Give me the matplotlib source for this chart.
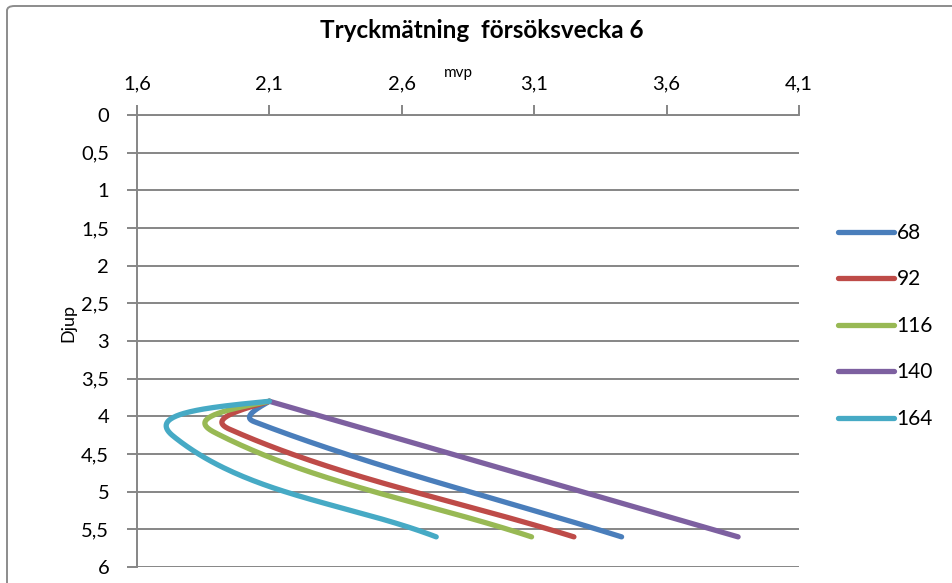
import numpy as np
import matplotlib
matplotlib.use("Agg")
import matplotlib.pyplot as plt
from matplotlib.patches import FancyBboxPatch
from matplotlib.ticker import FuncFormatter

plt.rcParams["font.family"] = ["Lato", "DejaVu Sans"]

# Tryck (mvp) och mätdjup (m) per serie
series_names = ["68", "92", "116", "140", "164"]
mvp_68 = [2.1, 2.042, 3.43]
mvp_92 = [2.1, 1.949, 3.25]
mvp_116 = [2.1, 1.891, 3.09]
mvp_140 = [2.1, 2.395, 3.87]
mvp_164 = [2.1, 1.736, 2.73]
djup_68 = [3.8, 4.07, 5.6]
djup_92 = [3.8, 4.17, 5.6]
djup_116 = [3.8, 4.21, 5.6]
djup_140 = [3.8, 4.1, 5.6]
djup_164 = [3.8, 4.26, 5.6]
series_values = [mvp_68, mvp_92, mvp_116, mvp_140, mvp_164]
series_depths = [djup_68, djup_92, djup_116, djup_140, djup_164]
colors = ["#4A7EBB", "#BE4B48", "#98B954", "#7D60A0", "#46AAC5"]

x_ticks = [1.6, 2.1, 2.6, 3.1, 3.6, 4.1]
y_ticks = np.arange(0, 6.01, 0.5)


def comma(v, _pos=None):
    s = f"{v:.1f}".rstrip("0").rstrip(".")
    return s.replace(".", ",")


def smooth_curve(ax, xs, ys, n=80):
    """Mjuk kurva genom punkterna, beräknad i skärmkoordinater."""
    pts = ax.transData.transform(np.column_stack([xs, ys]))
    m = len(pts)
    before = [None] * m
    after = [None] * m
    for i in range(1, m - 1):
        d = pts[i + 1] - pts[i - 1]
        span = np.hypot(*d)
        d = d / span
        l_prev = np.hypot(*(pts[i] - pts[i - 1]))
        l_next = np.hypot(*(pts[i + 1] - pts[i]))
        before[i] = pts[i] - d * min(span / 6, l_prev / 2)
        after[i] = pts[i] + d * l_next / 3
    after[0] = pts[0] + (before[1] - pts[0]) / 2
    before[-1] = pts[-1] - (pts[-1] - pts[-2]) / 3
    t = np.linspace(0, 1, n)[:, None]
    out = []
    for i in range(m - 1):
        b0, b1, b2, b3 = pts[i], after[i], before[i + 1], pts[i + 1]
        seg = ((1 - t) ** 3) * b0 + 3 * ((1 - t) ** 2) * t * b1 \
            + 3 * (1 - t) * t ** 2 * b2 + t ** 3 * b3
        out.append(seg)
    out = np.vstack(out)
    return ax.transData.inverted().transform(out)


fig = plt.figure(figsize=(9.52, 5.83), dpi=100)
ax = fig.add_axes([137 / 952, 1 - 567 / 583, 662 / 952, 452 / 583])

ax.set_xlim(1.6, 4.1)
ax.set_ylim(6, 0)
ax.set_xticks(x_ticks)
ax.set_yticks(y_ticks)
ax.xaxis.set_major_formatter(FuncFormatter(comma))
ax.yaxis.set_major_formatter(FuncFormatter(comma))
ax.xaxis.tick_top()

grid_color = "#868686"
ax.grid(axis="y", color=grid_color, linewidth=1.4)
ax.set_axisbelow(True)
for side in ["right", "bottom"]:
    ax.spines[side].set_visible(False)
for side in ["left", "top"]:
    ax.spines[side].set_color(grid_color)
    ax.spines[side].set_linewidth(1.4)
ax.tick_params(axis="both", color=grid_color, width=1.4, length=7,
               labelsize=14.5, direction="out")
ax.tick_params(axis="x", pad=9)
ax.tick_params(axis="y", pad=13)

for name, vals, deps, col in zip(series_names, series_values, series_depths, colors):
    curve = smooth_curve(ax, vals, deps)
    ax.plot(curve[:, 0], curve[:, 1], color=col, linewidth=3.8,
            solid_capstyle="round", label=name, clip_on=False)

leg = ax.legend(loc="upper left", bbox_to_anchor=(838 / 952, 1 - 223 / 583),
                bbox_transform=fig.transFigure, frameon=False, fontsize=15,
                handlelength=2.7, handletextpad=0.12, labelspacing=1.27,
                borderpad=0, borderaxespad=0)

fig.text(482 / 952, 1 - 30 / 583, "Tryckmätning  försöksvecka 6",
         ha="center", va="center", fontsize=17.5, fontweight="bold")
fig.text(458 / 952, 1 - 73 / 583, "mvp", ha="center", va="center", fontsize=11)
fig.text(68 / 952, 1 - 323 / 583, "Djup", ha="center", va="center",
         fontsize=13, rotation=90)

# Diagramram
frame = FancyBboxPatch((7 / 952, -0.2), 1.2, 1.2 - 6 / 583,
                       boxstyle="round,pad=0,rounding_size=0.008",
                       transform=fig.transFigure, facecolor="none",
                       edgecolor="#8C8C8C", linewidth=1.4)
fig.patches.append(frame)

fig.savefig("out.png", dpi=100)
